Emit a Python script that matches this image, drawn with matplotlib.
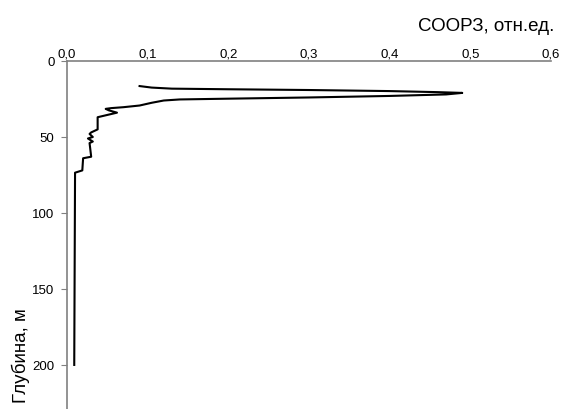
import matplotlib
matplotlib.use("Agg")
import matplotlib.pyplot as plt

plt.rcParams['font.family'] = ['Liberation Sans', 'DejaVu Sans']

# профиль СООРЗ по глубине
soorz = [0.090, 0.105, 0.13, 0.20, 0.30, 0.40, 0.46, 0.49, 0.47, 0.40, 0.30,
         0.20, 0.14, 0.12, 0.105, 0.09, 0.07, 0.055, 0.048, 0.052, 0.062,
         0.050, 0.038, 0.038, 0.030, 0.028, 0.032, 0.026, 0.032, 0.028,
         0.030, 0.020, 0.019, 0.010, 0.009]
depth = [16.5, 17.5, 18.2, 18.6, 19.1, 19.8, 20.5, 21.0, 22.0, 23.0, 24.0,
         24.8, 25.3, 26.0, 27.5, 29.3, 30.4, 31.0, 31.5, 32.5, 34.0,
         35.5, 37.0, 45.0, 47.0, 48.0, 50.0, 51.0, 53.0, 54.0,
         63.0, 64.0, 72.0, 73.5, 200.0]

x_ticks = [0.0, 0.1, 0.2, 0.3, 0.4, 0.5, 0.6]
x_labels = ['0,0', '0,1', '0,2', '0,3', '0,4', '0,5', '0,6']
y_ticks = [0, 50, 100, 150, 200]

fig = plt.figure(figsize=(5.61, 4.10), dpi=100)
ax = fig.add_axes([0.1194, 0.0, 0.8627, 0.8488])

ax.plot(soorz, depth, color='black', lw=1.5)

ax.set_xlim(0, 0.6)
ax.set_ylim(229, 0)
ax.xaxis.tick_top()
ax.set_xticks(x_ticks)
ax.set_xticklabels(x_labels)
ax.set_yticks(y_ticks)
ax.tick_params(axis='x', length=0, pad=1, labelsize=9.5)
ax.tick_params(axis='y', length=4, color='#808080', pad=5, labelsize=9.5)

for s in ['right', 'bottom']:
    ax.spines[s].set_visible(False)
for s in ['left', 'top']:
    ax.spines[s].set_color('#808080')
    ax.spines[s].set_linewidth(1.2)

fig.text(0.988, 0.935, 'СООРЗ, отн.ед.', ha='right', va='center', fontsize=13.5)
ax.set_ylabel('Глубина, м', fontsize=13.5)
ax.yaxis.set_label_coords(-0.077, 0.155)

fig.savefig('out.png', dpi=100)
